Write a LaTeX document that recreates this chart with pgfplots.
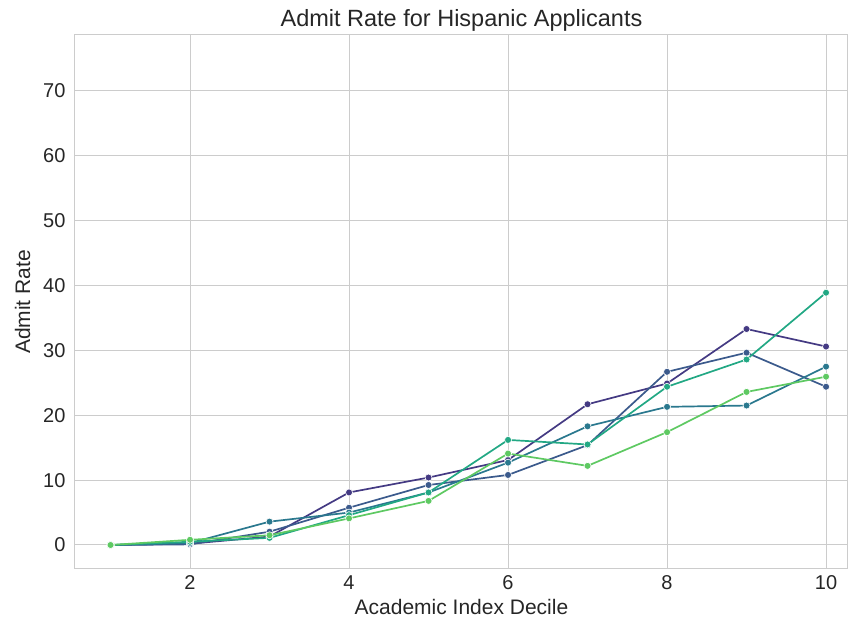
\documentclass[border=0pt]{standalone}
\usepackage{fontspec}
\setmainfont{Liberation Sans}
\usepackage{pgfplots}
\pgfplotsset{compat=1.18}

\definecolor{cA}{HTML}{443A83}
\definecolor{cB}{HTML}{3B5A8C}
\definecolor{cC}{HTML}{2A788E}
\definecolor{cD}{HTML}{22A884}
\definecolor{cE}{HTML}{5EC962}
\definecolor{gridc}{HTML}{CCCCCC}
\definecolor{txt}{HTML}{262626}

\begin{document}
\begin{tikzpicture}
\path[use as bounding box] (-75pt,-54pt) rectangle (774pt,569pt);
\begin{axis}[
  at={(0pt,0pt)}, anchor=south west,
  width=773pt, height=534pt, scale only axis,
  xmin=0.553, xmax=10.276,
  ymin=-3.7, ymax=78.63,
  xtick={2,4,6,8,10},
  ytick={0,10,20,30,40,50,60,70},
  grid=major,
  major grid style={draw=gridc, line width=1pt},
  axis line style={draw=gridc, line width=1pt},
  tick style={draw=none},
  /pgf/number format/assume math mode=true,
  tick label style={font=\fontsize{20}{23}\selectfont, text=txt},
  yticklabel style={xshift=-6pt},
  xticklabel style={yshift=-3pt},
  xlabel={Academic Index Decile},
  ylabel={Admit Rate},
  label style={font=\fontsize{21}{24}\selectfont, text=txt},
  xlabel style={yshift=-3pt},
  ylabel style={yshift=6pt},
  title={Admit Rate for Hispanic Applicants},
  title style={font=\fontsize{23.5}{27}\selectfont, text=txt, yshift=-6pt},
  every axis plot/.append style={line width=1.7pt},
  mk/.style={mark=*, mark size=3.5pt, mark options={draw=white, line width=0.6pt, fill=#1}},
]
% one line per applicant group
\addplot[cA, mk=cA] coordinates {(1,0) (2,0.2) (3,1.3) (4,8.1) (5,10.4) (6,13.1) (7,21.7) (8,24.9) (9,33.3) (10,30.6)};
\addplot[cB, mk=cB] coordinates {(1,0) (2,0.1) (3,2.05) (4,5.75) (5,9.25) (6,10.8) (7,15.4) (8,26.7) (9,29.65) (10,24.4)};
\addplot[cC, mk=cC] coordinates {(1,0) (2,0.3) (3,3.6) (4,5.0) (5,8.1) (6,12.7) (7,18.3) (8,21.3) (9,21.5) (10,27.5)};
\addplot[cD, mk=cD] coordinates {(1,0) (2,0.5) (3,1.1) (4,4.6) (5,8.1) (6,16.2) (7,15.5) (8,24.4) (9,28.6) (10,38.9)};
\addplot[cE, mk=cE] coordinates {(1,0) (2,0.8) (3,1.5) (4,4.1) (5,6.8) (6,14.1) (7,12.2) (8,17.4) (9,23.6) (10,25.95)};
\end{axis}
\end{tikzpicture}
\end{document}
